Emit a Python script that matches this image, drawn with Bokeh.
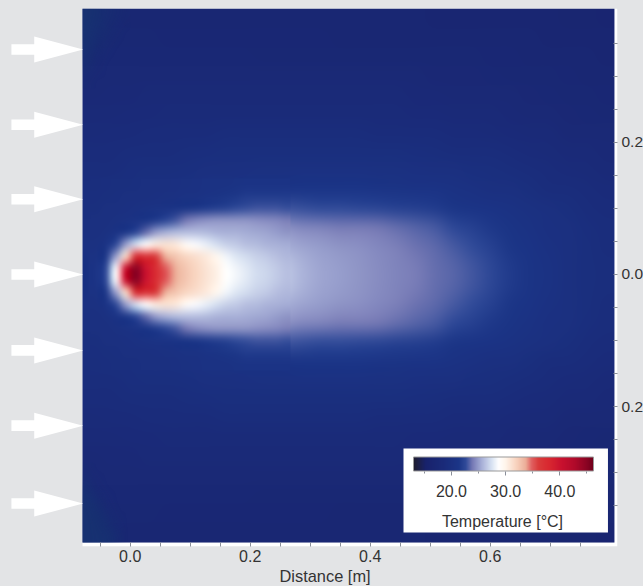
import numpy as np
from bokeh.plotting import figure
from bokeh.models import LinearColorMapper, ColorBar, FixedTicker, Label, Title
from bokeh.embed import file_html
from bokeh.resources import INLINE

# colour scale
scale_temps = [13.0, 13.9, 15.2, 18.2, 21.3, 22.6, 23.8, 25.6, 27.4, 28.7, 30.0, 31.9, 33.7, 34.8, 36.1, 38.0, 40.4, 42.8, 44.8, 46.2]
scale_cols = ["#1e1c2e", "#1c1f48", "#18226c", "#1a2a78", "#1b3587", "#2f4a98", "#7478b4", "#a8b0d8", "#d8e2f2", "#ffffff",
              "#fff4ea", "#f8d4c0", "#ecae98", "#e06060", "#d93a3a", "#d92830", "#c8102e", "#b00a2a", "#8e0424", "#70001c"]

# temperature, outer field (one row per distance from the centre line)
f00 = [20.5,24,40,38,34,32,31,29,28,27.1,26.5,25.8,25.2,25,24.8,24.5,24.2,23.9,23.6,23.3,22.9,22.4,21.6,21,20.5,20,19.6,19.3]
f01 = [20.3,21,26,29,31,29.5,28,27,26.4,26,25.6,25.3,25,24.8,24.6,24.4,24.1,23.7,23.4,23,22.6,22,21.4,20.8,20.3,19.9,19.5,19.2]
f02 = [20,20.2,21.3,22.5,24,24.8,25.2,25.3,25.1,24.9,24.7,24.4,24.2,24,23.9,23.8,23.6,23.3,23,22.5,22,21.5,21,20.6,20.1,19.8,19.4,19.1]
f03 = [19.7,19.9,20.2,20.5,20.8,21.2,21.7,22.2,22.7,22.9,22.9,22.8,22.7,22.6,22.5,22.4,22.2,22,21.7,21.4,21.1,20.8,20.5,20.2,19.8,19.5,19.2,18.9]
f04 = [19.4,19.5,19.7,19.9,20.1,20.3,20.5,20.7,20.9,21,21.1,21.2,21.2,21.2,21.2,21.1,21,20.9,20.8,20.6,20.3,20,19.8,19.5,19.2,19,18.8,18.6]
f05 = [19.1,19.2,19.4,19.5,19.6,19.7,19.9,20,20.1,20.2,20.2,20.3,20.3,20.3,20.3,20.2,20.2,20.1,20,19.9,19.7,19.5,19.3,19.1,18.9,18.7,18.5,18.3]
f06 = [18.8,18.9,19,19.1,19.2,19.3,19.4,19.5,19.5,19.6,19.6,19.6,19.6,19.6,19.6,19.5,19.5,19.4,19.3,19.2,19.1,19,18.8,18.6,18.5,18.3,18.1,18]
f07 = [18.5,18.6,18.7,18.8,18.8,18.9,18.9,19,19,19,19,19,19,19,19,18.9,18.9,18.9,18.8,18.7,18.6,18.5,18.4,18.2,18.1,17.9,17.8,17.7]
f08 = [18.2,18.3,18.4,18.4,18.5,18.5,18.5,18.5,18.5,18.5,18.5,18.5,18.5,18.5,18.5,18.5,18.5,18.4,18.4,18.3,18.2,18.1,18,17.9,17.8,17.6,17.5,17.4]
f09 = [17.9,18,18,18.1,18.1,18.1,18.1,18.1,18.1,18.1,18.1,18.1,18.1,18.1,18.1,18.1,18.1,18,18,17.9,17.9,17.8,17.7,17.6,17.5,17.4,17.3,17.2]
f10 = [17.7,17.7,17.7,17.8,17.8,17.8,17.8,17.8,17.8,17.8,17.8,17.8,17.7,17.7,17.7,17.7,17.7,17.7,17.6,17.6,17.6,17.5,17.4,17.4,17.3,17.2,17.1,17]
f11 = [17.5,17.5,17.5,17.5,17.5,17.5,17.5,17.5,17.5,17.4,17.4,17.4,17.4,17.4,17.4,17.4,17.4,17.4,17.3,17.3,17.3,17.2,17.2,17.1,17.1,17,16.9,16.8]
f12 = [17.4,17.3,17.3,17.3,17.2,17.2,17.2,17.2,17.2,17.2,17.2,17.2,17.2,17.1,17.1,17.1,17.1,17.1,17.1,17,17,17,16.9,16.9,16.8,16.8,16.7,16.7]
f13 = [17.3,17.2,17.1,17.1,17,17,17,17,17,17,17,16.9,16.9,16.9,16.9,16.9,16.9,16.9,16.8,16.8,16.8,16.8,16.7,16.7,16.7,16.6,16.6,16.5]
field_rows = [f13,f12,f11,f10,f09,f08,f07,f06,f05,f04,f03,f02,f01,f00,
              f00,f01,f02,f03,f04,f05,f06,f07,f08,f09,f10,f11,f12,f13]

# temperature, around the hot core
c0 = [20.8,22.5,28.5,40,45,40,37.5,35,33.5,32.5,31.8,31,30.2,28.8,28.2,27.7,27.2,26.9,26.6,26.1]
c1 = [20.5,21.5,25,31.5,37,37,36,33.5,32.5,31.8,31.2,30.6,29.6,28.3,27.6,27.2,26.8,26.5,26.2,25.9]
c2 = [20.2,20.8,22.5,25,27.3,28.9,30.5,31,30.6,29.3,28.5,28,27.3,26.8,26.5,26.2,26,25.8,25.7,25.5]
c3 = [20,20.2,20.8,21.5,22.5,23.6,25,25.6,26,26.2,26.1,26,25.8,25.7,25.6,25.5,25.4,25.2,25,24.8]
c4 = [19.8,20,20.2,20.5,20.8,21.2,21.8,22.5,23.1,23.8,24.3,24.6,24.7,24.8,24.8,24.7,24.6,24.5,24.3,24.1]
c5 = [19.6,19.8,20,20.1,20.3,20.5,20.7,20.9,21.1,21.3,21.5,21.8,22,22.3,22.6,22.8,22.9,22.9,22.9,22.8]
c6 = [19.4,19.5,19.7,19.8,19.9,20,20.1,20.2,20.3,20.4,20.5,20.8,21,21.3,21.5,21.7,21.8,21.8,21.8,21.8]
c7 = [19.3,19.4,19.5,19.6,19.7,19.8,19.9,20,20.1,20.2,20.3,20.4,20.5,20.6,20.7,20.8,20.9,20.9,20.9,20.9]
core_rows = [c7,c6,c5,c4,c3,c2,c1,c0,c0,c1,c2,c3,c4,c5,c6,c7]

# strength of the teal tint in the two left corners of the field
tint_low = [[.55,.5,.45,.25,0],[.55,.45,.25,.05,0],[.5,.28,.08,0,0],[.28,.08,0,0,0],[.05,0,0,0,0]]
tint_high = [[.05,0,0,0,0],[.22,.08,0,0,0],[.38,.2,.05,0,0],[.5,.33,.16,.05,0],[.55,.44,.28,.16,.05]]

x_ticks = [0.0, 0.2, 0.4, 0.6]
x_labels = ["0.0", "0.2", "0.4", "0.6"]
x_minor = [-0.05, 0.05, 0.1, 0.15, 0.25, 0.3, 0.35, 0.45, 0.5, 0.55, 0.65, 0.7, 0.75]
y_ticks = [-0.2, 0.0, 0.2]
y_labels = ["0.2", "0.0", "0.2"]
y_minor = [-0.35, -0.3, -0.25, -0.15, -0.1, -0.05, 0.05, 0.1, 0.15, 0.25, 0.3, 0.35]
bar_ticks = [20, 30, 40]
bar_minor = [15, 25, 35, 45]
arrow_y = [0.341, 0.227, 0.114, 0.0, -0.115, -0.229, -0.347]

def hex_rgb(h):
    return [int(h[i:i+2], 16) for i in (1, 3, 5)]

grid = np.linspace(scale_temps[0], scale_temps[-1], 256)
rgb = np.array([hex_rgb(c) for c in scale_cols], float)
palette = ["#%02x%02x%02x" % tuple(int(round(np.interp(t, scale_temps, rgb[:, k]))) for k in range(3)) for t in grid]
mapper = LinearColorMapper(palette=palette, low=scale_temps[0], high=scale_temps[-1])
tint_mapper = LinearColorMapper(palette=["#15396f%02x" % a for a in range(256)], low=0, high=1)

BG = "#e3e4e6"
TXT = "#333333"
FONT = "Liberation Sans"
FS = "16px"

p = figure(width=643, height=586, frame_width=617, frame_height=538,
           x_range=(-0.2162, 0.8122), y_range=(-0.4121, 0.4030),
           y_axis_location="right", output_backend="svg", toolbar_location=None,
           background_fill_color=BG, border_fill_color=BG,
           min_border_left=0, min_border_right=26, min_border_top=8, min_border_bottom=40,
           outline_line_color=None)
p.grid.visible = False

# white strips along the right and bottom of the plate
p.quad(left=[-0.0795], right=[0.8122], top=[0.4030], bottom=[-0.4121], fill_color="white", line_color=None)

# image extents are given in axis units
p.image(image=[np.array(field_rows)], x=-0.0795, y=-0.4061, dw=0.8866, dh=0.8091, color_mapper=mapper)
p.image(image=[np.array(core_rows)], x=-0.0662, y=-0.14545, dw=0.3333, dh=0.2909, color_mapper=mapper)
p.image(image=[np.array(tint_low, float)], x=-0.0795, y=-0.4061, dw=0.08, dh=0.121, color_mapper=tint_mapper)
p.image(image=[np.array(tint_high, float)], x=-0.0795, y=0.2818, dw=0.08, dh=0.121, color_mapper=tint_mapper)

p.quad(left=[0.4555], right=[0.7963], top=[-0.2636], bottom=[-0.3909], fill_color="white", line_color=None)

for ax, ticks, labels, minor in ((p.xaxis[0], x_ticks, x_labels, x_minor), (p.yaxis[0], y_ticks, y_labels, y_minor)):
    ax.ticker = FixedTicker(ticks=ticks, minor_ticks=minor)
    ax.major_label_overrides = dict(zip(ticks, labels))
    ax.axis_line_color = None
    ax.major_tick_in = 4
    ax.major_tick_out = 0
    ax.minor_tick_in = 4
    ax.minor_tick_out = 0
    ax.major_tick_line_color = "#8a8f99"
    ax.minor_tick_line_color = "#8a8f99"
    ax.major_label_text_font = FONT
    ax.major_label_text_font_size = FS
    ax.major_label_text_color = TXT
    ax.major_label_standoff = 3
p.yaxis[0].major_label_text_font_size = "15.5px"
p.yaxis[0].major_label_standoff = 4

p.add_layout(Title(text="Distance [m]", align="left", offset=279, text_font=FONT, text_font_size="16.4px",
                   text_font_style="normal", text_color=TXT, standoff=0), "below")

arrow_xs = [-0.198, -0.160, -0.160, -0.0785, -0.160, -0.160, -0.198]
p.patches(xs=[arrow_xs for _ in arrow_y],
          ys=[[y0 + 0.008, y0 + 0.008, y0 + 0.0197, y0, y0 - 0.0197, y0 - 0.008, y0 - 0.008] for y0 in arrow_y],
          fill_color="white", line_color=None)

cb = ColorBar(color_mapper=mapper, width=180, height=14, orientation="horizontal",
              location=(413, 46.5), padding=0, background_fill_alpha=0, border_line_color=None,
              ticker=FixedTicker(ticks=bar_ticks, minor_ticks=bar_minor),
              major_label_overrides={t: "%.1f" % t for t in bar_ticks},
              major_label_text_font=FONT, major_label_text_font_size=FS, major_label_text_color=TXT,
              major_tick_in=0, major_tick_out=4, minor_tick_in=0, minor_tick_out=2,
              major_tick_line_color="#8a8f99", minor_tick_line_color="#8a8f99",
              bar_line_color="#999999", label_standoff=10)
p.add_layout(cb, "center")

p.add_layout(Label(x=0.6205, y=-0.374, text="Temperature [°C]", text_align="center", text_baseline="middle",
                   text_font=FONT, text_font_size=FS, text_color=TXT))

# The read grids stay as they are; the browser is only asked to scale them smoothly when it paints them.
head = """<head><style>html,body{background:%s;overflow:hidden;margin:0}</style>
<script>
(function(){
  var proto = CanvasRenderingContext2D.prototype;
  var draw = proto.drawImage;
  var d = Object.getOwnPropertyDescriptor(proto, 'imageSmoothingEnabled');
  Object.defineProperty(proto, 'imageSmoothingEnabled', {get:function(){return true;}, set:function(v){d.set.call(this,true);}, configurable:true});
  proto.drawImage = function(){d.set.call(this,true);this.imageSmoothingQuality='high';return draw.apply(this,arguments);};
  function smooth(root){root.querySelectorAll('*').forEach(function(e){
    if(e.tagName.toLowerCase()==='image'){e.style.imageRendering='auto';e.removeAttribute('image-rendering');}
    if(e.shadowRoot){smooth(e.shadowRoot);}
  });}
  setInterval(function(){smooth(document);},50);
})();
</script>""" % BG
html = file_html(p, INLINE).replace("<head>", head, 1)
open("out.html", "w").write(html)
